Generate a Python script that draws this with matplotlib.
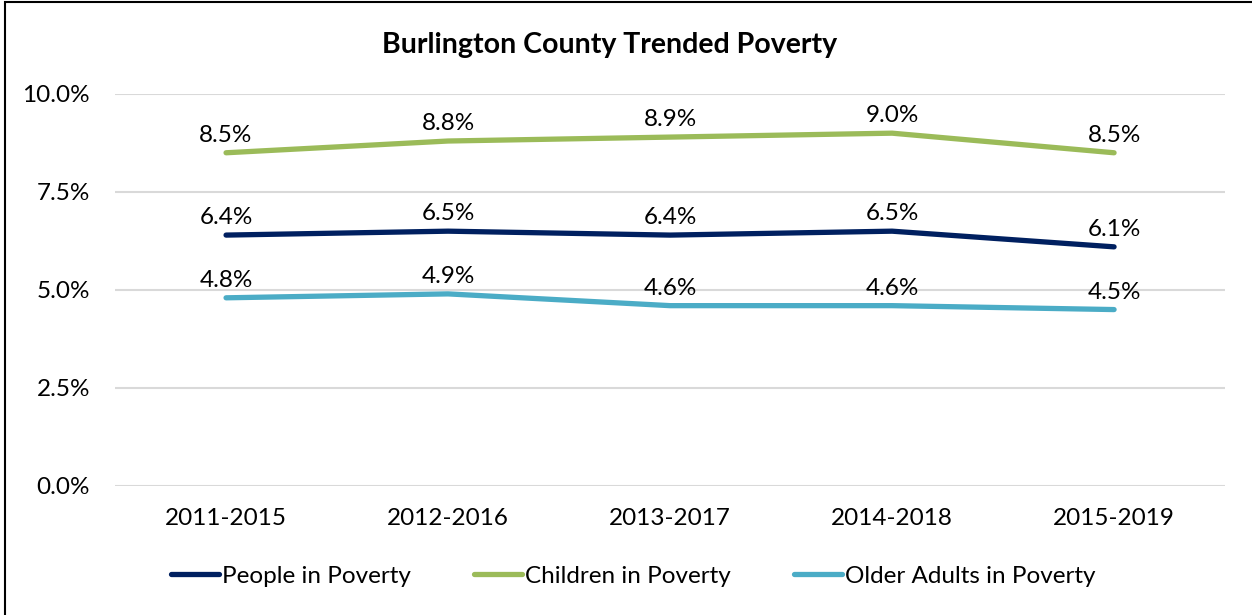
import matplotlib.pyplot as plt
from matplotlib.patches import Rectangle

# Data
periods = ['2011-2015', '2012-2016', '2013-2017', '2014-2018', '2015-2019']
people = [6.4, 6.5, 6.4, 6.5, 6.1]
children = [8.5, 8.8, 8.9, 9.0, 8.5]
older = [4.8, 4.9, 4.6, 4.6, 4.5]

series = [
    ('People in Poverty', people, '#002060'),
    ('Children in Poverty', children, '#9BBB59'),
    ('Older Adults in Poverty', older, '#4BACC6'),
]

plt.rcParams['font.family'] = ['Lato', 'DejaVu Sans']

fig = plt.figure(figsize=(12.52, 6.15), dpi=100)
ax = fig.add_axes([0.0919, 0.2098, 0.8866, 0.6374])

x = list(range(len(periods)))
for name, vals, color in series:
    ax.plot(x, vals, color=color, linewidth=3.8, solid_capstyle='round', label=name, zorder=3)
    for xi, v in zip(x, vals):
        ax.annotate(f'{v:.1f}%', (xi, v), xytext=(0, 5), textcoords='offset points',
                    ha='center', va='bottom', fontsize=17.5, color='#000000')

ax.set_xlim(-0.5, 4.5)
ax.set_ylim(0, 10)
ax.set_yticks([0, 2.5, 5, 7.5, 10])
ax.set_yticklabels([f'{t:.1f}%' for t in [0, 2.5, 5, 7.5, 10]])
ax.set_xticks(x)
ax.set_xticklabels(periods)
ax.tick_params(axis='both', length=0, labelsize=17.5)
ax.tick_params(axis='y', pad=18)
ax.tick_params(axis='x', pad=16)
ax.grid(axis='y', color='#d9d9d9', linewidth=1.5)
ax.set_axisbelow(True)
for s in ax.spines.values():
    s.set_visible(False)

fig.text(610 / 1252, 1 - 45 / 615, 'Burlington County Trended Poverty', ha='center', va='center',
         fontsize=20.5, fontweight='bold')

fig.legend(loc='center', bbox_to_anchor=(633 / 1252, 1 - 576 / 615), ncol=3, frameon=False,
           fontsize=17.5, handlelength=2.0, handletextpad=0.1, columnspacing=2.6)

# outer frame
fig.patches.append(Rectangle((0.004, -0.01), 1.1, 1.006, transform=fig.transFigure,
                             fill=False, edgecolor='black', linewidth=1.5))

fig.savefig('out.png', dpi=100)
